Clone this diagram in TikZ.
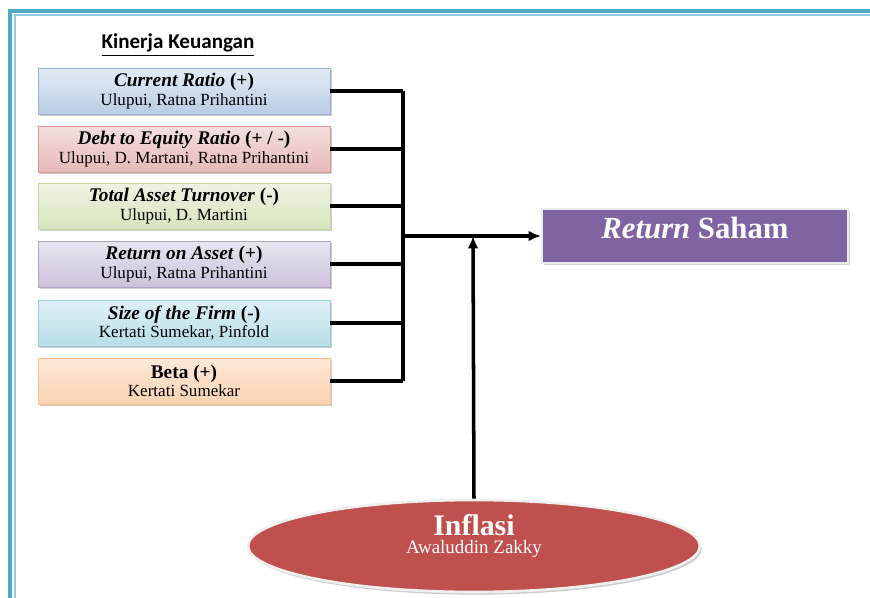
\documentclass[tikz,border=0pt]{standalone}
\usepackage{fontspec}
\setmainfont{Liberation Serif}
\newfontfamily\calibri{Carlito}
\usetikzlibrary{shapes.geometric,shadows,arrows.meta}

\definecolor{frameDark}{HTML}{4BACC6}
\definecolor{frameLight}{HTML}{92CDDC}
\definecolor{crTop}{HTML}{E4ECF6}
\definecolor{crBot}{HTML}{B9CDE5}
\definecolor{crLine}{HTML}{95B3D7}
\definecolor{derTop}{HTML}{F4E0DF}
\definecolor{derBot}{HTML}{E6B9B8}
\definecolor{derLine}{HTML}{D99694}
\definecolor{tatTop}{HTML}{EEF4E2}
\definecolor{tatBot}{HTML}{D7E4BD}
\definecolor{tatLine}{HTML}{C3D69B}
\definecolor{roaTop}{HTML}{E9E5EF}
\definecolor{roaBot}{HTML}{CCC1DA}
\definecolor{roaLine}{HTML}{B3A2C7}
\definecolor{sizeTop}{HTML}{DFF0F5}
\definecolor{sizeBot}{HTML}{B7DEE8}
\definecolor{sizeLine}{HTML}{93CDDD}
\definecolor{betaTop}{HTML}{FDE9D9}
\definecolor{betaBot}{HTML}{FBD3B2}
\definecolor{betaLine}{HTML}{FAC090}
\definecolor{retFill}{HTML}{8064A2}
\definecolor{inflFill}{HTML}{C0504D}

\newcommand{\ftitle}[1]{{\fontsize{11}{11}\selectfont\bfseries #1}}

\begin{document}
\begin{tikzpicture}[x=0.02cm, y=-0.02cm,
    factor/.style n args={3}{rectangle, draw=#3, top color=#1, bottom color=#2,
        minimum width=5.84cm, minimum height=0.92cm, inner sep=1pt, align=center,
        font=\fontsize{9.7}{10.5}\selectfont,
        drop shadow={shadow xshift=1.3pt, shadow yshift=-1.3pt, fill=black!40}},
    link/.style={line width=2pt},
    tip/.style={-{Latex[length=7pt,width=6pt]}}]
    \useasboundingbox (0,0) rectangle (870,598);

    % frame
    \draw[frameDark, line width=2.4pt] (10,598) -- (10,11) -- (870,11);
    \draw[frameLight, line width=1.1pt] (14.7,598) -- (14.7,14.7) -- (870,14.7);

    \node (head) at (178,45) {\fontsize{12}{14}\calibri\bfseries\underline{Kinerja Keuangan}};

    % kinerja keuangan
    \node[factor={crTop}{crBot}{crLine}] (cr) at (184,91)
        {\ftitle{\textit{Current Ratio} (+)}\\Ulupui, Ratna Prihantini};
    \node[factor={derTop}{derBot}{derLine}] (der) at (184,149)
        {\ftitle{\textit{Debt to Equity Ratio} (+ / -)}\\Ulupui, D. Martani, Ratna Prihantini};
    \node[factor={tatTop}{tatBot}{tatLine}] (tat) at (184,206)
        {\ftitle{\textit{Total Asset Turnover} (-)}\\Ulupui, D. Martini};
    \node[factor={roaTop}{roaBot}{roaLine}] (roa) at (184,264)
        {\ftitle{\textit{Return on Asset} (+)}\\Ulupui, Ratna Prihantini};
    \node[factor={sizeTop}{sizeBot}{sizeLine}] (size) at (184,323)
        {\ftitle{\textit{Size of the Firm} (-)}\\Kertati Sumekar, Pinfold};
    \node[factor={betaTop}{betaBot}{betaLine}] (beta) at (184,381)
        {\ftitle{Beta (+)}\\Kertati Sumekar};

    % return saham
    \node[rectangle, fill=retFill, draw=black!8, line width=1.2pt, text=white,
        minimum width=6.12cm, inner sep=0pt, text height=0.6cm, text depth=0.48cm,
        font=\fontsize{17.5}{19}\selectfont\bfseries,
        drop shadow={shadow xshift=1.3pt, shadow yshift=-1.3pt, fill=black!35}]
        (ret) at (695,236) {\textit{Return} Saham};

    % inflasi
    \node[ellipse, fill=inflFill, draw=black!6, line width=1.5pt, text=white,
        minimum width=9.04cm, minimum height=1.84cm, inner sep=0pt, align=center,
        text height=0.8cm, text depth=0.48cm, font=\fontsize{10.8}{11}\selectfont,
        drop shadow={shadow xshift=1pt, shadow yshift=-1.5pt, fill=black!40}]
        (infl) at (474,546)
        {{\fontsize{17}{18}\selectfont\bfseries Inflasi}\\[-0.5pt]Awaluddin Zakky};

    \coordinate (bus) at (403,236);
    \coordinate (meet) at (473,236);

    \foreach \n in {cr,der,tat,roa,size,beta}
        \draw[link] (\n.east) -- (\n.east -| bus);
    \draw[link] (cr.east -| bus) -- (beta.east -| bus);
    \draw[link,tip] (bus) -- (ret.west);
    \draw[link,tip] (infl.north) -- (meet);
\end{tikzpicture}
\end{document}
